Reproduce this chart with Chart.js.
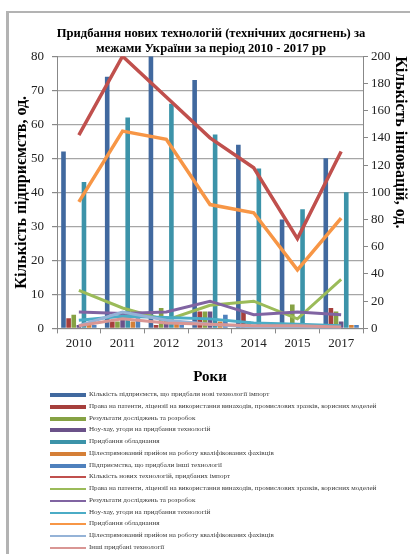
<!DOCTYPE html>
<html>
<head>
<meta charset="utf-8">
<script src="https://cdn.jsdelivr.net/npm/chart.js@4.4.1/dist/chart.umd.min.js"></script>
<style>
  html, body { margin: 0; padding: 0; background: #fff; }
  body { width: 410px; height: 554px; position: relative; overflow: hidden; font-family: "Liberation Serif", serif; }
  #frame { position: absolute; left: 6px; top: 11px; width: 420px; height: 560px; border-left: 3px solid #b3b3b3; border-top: 2px solid #b3b3b3; }
  #wrap { position: absolute; left: 0; top: 0; width: 410px; height: 392px; }
  #legend { position: absolute; left: 0; top: 0; width: 410px; height: 554px; pointer-events: none; }
  .row { position: absolute; left: 50px; height: 10px; white-space: nowrap; }
  .sw { position: absolute; left: 0; width: 36px; }
  .lt { position: absolute; left: 39px; top: -1px; font-size: 7.1px; line-height: 10px; color: #3a3a3a; }
</style>
</head>
<body>
<div id="frame"></div>
<div id="wrap"><canvas id="c"></canvas></div>
<div id="legend"></div>
<script>
// ---- data ----
const years = ['2010', '2011', '2012', '2013', '2014', '2015', '2017'];

// bars, left axis (кількість підприємств)
const enterprisesImport = [52, 74, 80, 73, 54, 32, 50];
const patentsEnterprises = [3, 2, 1, 5, 5, 0, 6];
const researchEnterprises = [4, 2, 6, 5, 2, 7, 5];
const knowhowEnterprises = [1, 5, 3, 5, 1, 1, 2];
const equipmentEnterprises = [43, 62, 66, 57, 47, 35, 40];
const hiringEnterprises = [1, 2, 2, 2, 1, 0, 1];
const otherEnterprises = [1, 3, 1, 4, 1, 1, 1];

// lines, right axis (кількість інновацій)
const newTechImport = [142, 200, 170, 140, 118, 66, 130];
const patentsTech = [28, 15, 6, 17, 20, 7, 36];
const researchTech = [12, 11, 12, 20, 10, 12, 10];
const knowhowTech = [6, 9, 8, 7, 4, 3, 2];
const equipmentTech = [93, 145, 139, 91, 85, 43, 81];
const hiringTech = [2, 12, 6, 3, 1, 1, 0];
const otherTech = [2, 7, 4, 3, 2, 2, 1];

const barLabels = [
  'Кількість підприємств, що придбали нові технології імпорт',
  'Права на патенти, ліцензії на використання винаходів, промислових зразків, корисних моделей',
  'Результати досліджень та розробок',
  'Ноу-хау, угоди на придбання технологій',
  'Придбання обладнання',
  'Цілеспрямований прийом на роботу кваліфікованих фахівців',
  'Підприємства, що придбали інші технології'
];
const lineLabels = [
  'Кількість нових технологій, придбаних  імпорт',
  'Права на патенти, ліцензії на використання винаходів, промислових зразків, корисних моделей',
  'Результати досліджень та розробок',
  'Ноу-хау, угоди на придбання технологій',
  'Придбання обладнання',
  'Цілеспрямований прийом на роботу кваліфікованих фахівців',
  'Інші придбані технології'
];
const barSeries = [enterprisesImport, patentsEnterprises, researchEnterprises, knowhowEnterprises, equipmentEnterprises, hiringEnterprises, otherEnterprises];
const lineSeries = [newTechImport, patentsTech, researchTech, knowhowTech, equipmentTech, hiringTech, otherTech];
const barColors = ['#41699f', '#a63f3c', '#86a244', '#6b5289', '#3c93a9', '#d57f37', '#4f81bd'];
const lineColors = ['#c0504d', '#9bbb59', '#8064a2', '#4bacc6', '#f79646', '#95b3d7', '#d99694'];
const lineWidths = [3.5, 3, 3, 3, 3.5, 3, 3];

const datasets = [];
barSeries.forEach((d, i) => datasets.push({
  type: 'bar', label: barLabels[i], data: d, yAxisID: 'y',
  backgroundColor: barColors[i], borderWidth: 0,
  barPercentage: 0.9, categoryPercentage: 0.82, order: 40 + i
}));
lineSeries.forEach((d, i) => datasets.push({
  type: 'line', label: lineLabels[i], data: d, yAxisID: 'y1',
  borderColor: lineColors[i], backgroundColor: lineColors[i], borderWidth: lineWidths[i],
  pointRadius: 0, tension: 0, fill: false, order: 20 - i
}));

const serif = 'Liberation Serif';
new Chart(document.getElementById('c'), {
  data: { labels: years, datasets },
  options: {
    responsive: true, maintainAspectRatio: false, animation: false,
    layout: { padding: { left: 12, right: 0, top: 26, bottom: 6 } },
    plugins: {
      legend: { display: false },
      tooltip: { enabled: false },
      title: {
        display: true,
        text: ['Придбання нових технологій (технічних досягнень) за', 'межами України за період 2010 - 2017 рр'],
        font: { family: serif, size: 12.6, weight: 'bold', lineHeight: 1.2 },
        color: '#000', padding: { top: 0, bottom: 0 }
      }
    },
    scales: {
      x: {
        offset: true,
        grid: { display: true, offset: true, drawOnChartArea: false, tickLength: 5, color: '#888' },
        border: { color: '#888' },
        ticks: { font: { family: serif, size: 13 }, color: '#222', padding: 2 },
        title: { display: true, text: 'Роки', font: { family: serif, size: 15, weight: 'bold' }, color: '#000', padding: { top: 15, bottom: 0 } }
      },
      y: {
        position: 'left', min: 0, max: 80,
        afterFit: (s) => { s.width = 45; },
        ticks: { stepSize: 10, font: { family: serif, size: 13 }, color: '#222', padding: 8 },
        grid: { color: '#a6a6a6', lineWidth: 1.2, tickLength: 5, tickColor: '#888' },
        border: { color: '#888' },
        title: { display: true, text: 'Кількість підприємств, од.', font: { family: serif, size: 16, weight: 'bold' }, color: '#000', padding: { top: 0, bottom: 1 } }
      },
      y1: {
        position: 'right', min: 0, max: 200,
        afterFit: (s) => { s.width = 47; },
        ticks: { stepSize: 20, font: { family: serif, size: 13 }, color: '#222', padding: 3 },
        grid: { drawOnChartArea: false, tickLength: 5, color: '#888' },
        border: { color: '#888' },
        title: { display: true, align: 'end', text: 'Кількість інновацій, од.', font: { family: serif, size: 16, weight: 'bold' }, color: '#000', padding: { top: 0, bottom: 0 } }
      }
    }
  }
});

// legend built from the datasets
const lg = document.getElementById('legend');
datasets.forEach((ds, i) => {
  const row = document.createElement('div');
  row.className = 'row';
  row.style.top = (390 + i * 11.75) + 'px';
  const sw = document.createElement('div');
  sw.className = 'sw';
  const isBar = ds.type === 'bar';
  sw.style.height = isBar ? '4px' : '2px';
  sw.style.top = isBar ? '3px' : '4px';
  sw.style.background = isBar ? ds.backgroundColor : ds.borderColor;
  const t = document.createElement('div');
  t.className = 'lt';
  t.textContent = ds.label;
  row.appendChild(sw); row.appendChild(t);
  lg.appendChild(row);
});
</script>
</body>
</html>
